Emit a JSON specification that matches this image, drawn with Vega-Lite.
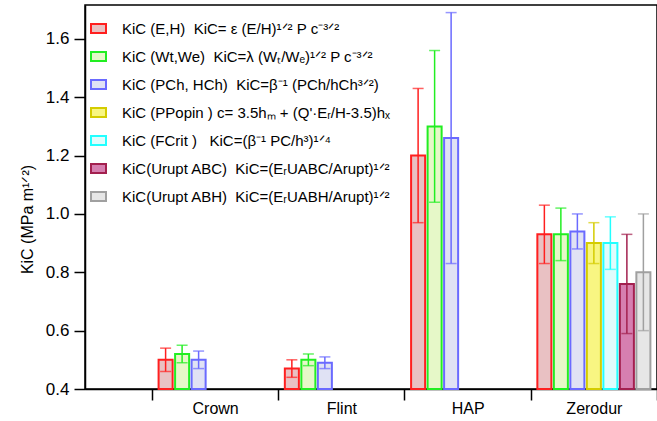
{
  "$schema": "https://vega.github.io/schema/vega-lite/v6.json",
  "autosize": "none",
  "padding": {"left": 85, "top": 5, "right": 0, "bottom": 32},
  "width": 572,
  "height": 384,
  "background": "white",
  "config": {
    "font": "Liberation Sans",
    "view": {"stroke": "black", "strokeWidth": 1.5},
    "axis": {"domainColor": "black", "tickColor": "black", "labelColor": "black", "titleColor": "black", "grid": false, "domainWidth": 1.5, "tickWidth": 1.5}
  },
  "data": {
    "values": [
      {"material": "Crown", "method": "KiC (E,H)\u00a0\u00a0KiC= ε (E/H)¹ᐟ² P c⁻³ᐟ²", "value": 0.50, "lo": 0.46, "hi": 0.54},
      {"material": "Crown", "method": "KiC (Wt,We)\u00a0\u00a0KiC=λ (Wₜ/Wₑ)¹ᐟ² P c⁻³ᐟ²", "value": 0.52, "lo": 0.49, "hi": 0.55},
      {"material": "Crown", "method": "KiC (PCh, HCh)\u00a0\u00a0KiC=β⁻¹ (PCh/hCh³ᐟ²)", "value": 0.50, "lo": 0.47, "hi": 0.53},
      {"material": "Flint", "method": "KiC (E,H)\u00a0\u00a0KiC= ε (E/H)¹ᐟ² P c⁻³ᐟ²", "value": 0.47, "lo": 0.44, "hi": 0.50},
      {"material": "Flint", "method": "KiC (Wt,We)\u00a0\u00a0KiC=λ (Wₜ/Wₑ)¹ᐟ² P c⁻³ᐟ²", "value": 0.50, "lo": 0.48, "hi": 0.52},
      {"material": "Flint", "method": "KiC (PCh, HCh)\u00a0\u00a0KiC=β⁻¹ (PCh/hCh³ᐟ²)", "value": 0.49, "lo": 0.47, "hi": 0.51},
      {"material": "HAP", "method": "KiC (E,H)\u00a0\u00a0KiC= ε (E/H)¹ᐟ² P c⁻³ᐟ²", "value": 1.20, "lo": 0.97, "hi": 1.43},
      {"material": "HAP", "method": "KiC (Wt,We)\u00a0\u00a0KiC=λ (Wₜ/Wₑ)¹ᐟ² P c⁻³ᐟ²", "value": 1.30, "lo": 1.04, "hi": 1.56},
      {"material": "HAP", "method": "KiC (PCh, HCh)\u00a0\u00a0KiC=β⁻¹ (PCh/hCh³ᐟ²)", "value": 1.26, "lo": 0.83, "hi": 1.69},
      {"material": "Zerodur", "method": "KiC (E,H)\u00a0\u00a0KiC= ε (E/H)¹ᐟ² P c⁻³ᐟ²", "value": 0.93, "lo": 0.83, "hi": 1.03},
      {"material": "Zerodur", "method": "KiC (Wt,We)\u00a0\u00a0KiC=λ (Wₜ/Wₑ)¹ᐟ² P c⁻³ᐟ²", "value": 0.93, "lo": 0.84, "hi": 1.02},
      {"material": "Zerodur", "method": "KiC (PCh, HCh)\u00a0\u00a0KiC=β⁻¹ (PCh/hCh³ᐟ²)", "value": 0.94, "lo": 0.88, "hi": 1.00},
      {"material": "Zerodur", "method": "KiC (PPopin ) c= 3.5hₘ + (Q'·Eᵣ/H-3.5)hₓ", "value": 0.90, "lo": 0.83, "hi": 0.97},
      {"material": "Zerodur", "method": "KiC (FCrit )\u00a0\u00a0\u00a0KiC=(β⁻¹ PC/h³)¹ᐟ⁴", "value": 0.90, "lo": 0.81, "hi": 0.99},
      {"material": "Zerodur", "method": "KiC(Urupt ABC)\u00a0\u00a0KiC=(EᵣUABC/Arupt)¹ᐟ²", "value": 0.76, "lo": 0.59, "hi": 0.93},
      {"material": "Zerodur", "method": "KiC(Urupt ABH)\u00a0\u00a0KiC=(EᵣUABH/Arupt)¹ᐟ²", "value": 0.80, "lo": 0.60, "hi": 1.00}
    ]
  },
  "encoding": {
    "x": {
      "field": "material", "type": "nominal",
      "scale": {"domain": ["Crown", "Flint", "HAP", "Zerodur"], "paddingInner": 0, "paddingOuter": 0.2653, "align": 1},
      "axis": {"title": null, "labelAngle": 0, "labelFontSize": 16, "tickSize": 11, "labelPadding": 0, "tickBand": "extent"}
    },
    "xOffset": {
      "field": "method", "type": "nominal",
      "scale": {"domain": [
        "KiC (E,H)\u00a0\u00a0KiC= ε (E/H)¹ᐟ² P c⁻³ᐟ²",
        "KiC (Wt,We)\u00a0\u00a0KiC=λ (Wₜ/Wₑ)¹ᐟ² P c⁻³ᐟ²",
        "KiC (PCh, HCh)\u00a0\u00a0KiC=β⁻¹ (PCh/hCh³ᐟ²)",
        "KiC (PPopin ) c= 3.5hₘ + (Q'·Eᵣ/H-3.5)hₓ",
        "KiC (FCrit )\u00a0\u00a0\u00a0KiC=(β⁻¹ PC/h³)¹ᐟ⁴",
        "KiC(Urupt ABC)\u00a0\u00a0KiC=(EᵣUABC/Arupt)¹ᐟ²",
        "KiC(Urupt ABH)\u00a0\u00a0KiC=(EᵣUABH/Arupt)¹ᐟ²"
      ], "paddingInner": 0.15, "paddingOuter": 0.4}
    }
  },
  "layer": [
    {
      "mark": {"type": "bar", "strokeWidth": 2},
      "encoding": {
        "y": {
          "field": "value", "type": "quantitative",
          "scale": {"domain": [0.4, 1.716], "zero": false, "nice": false},
          "axis": {"title": "KiC (MPa m¹ᐟ²)", "titleFontSize": 16, "titleFontWeight": "normal", "titlePadding": 10, "titleY": 214, "values": [0.4, 0.6, 0.8, 1.0, 1.2, 1.4, 1.6], "format": ".1f", "labelFontSize": 17, "tickSize": 11, "labelPadding": 5}
        },
        "y2": {"datum": 0.4},
        "fill": {
          "field": "method", "type": "nominal",
          "scale": {"domain": [
            "KiC (E,H)\u00a0\u00a0KiC= ε (E/H)¹ᐟ² P c⁻³ᐟ²",
            "KiC (Wt,We)\u00a0\u00a0KiC=λ (Wₜ/Wₑ)¹ᐟ² P c⁻³ᐟ²",
            "KiC (PCh, HCh)\u00a0\u00a0KiC=β⁻¹ (PCh/hCh³ᐟ²)",
            "KiC (PPopin ) c= 3.5hₘ + (Q'·Eᵣ/H-3.5)hₓ",
            "KiC (FCrit )\u00a0\u00a0\u00a0KiC=(β⁻¹ PC/h³)¹ᐟ⁴",
            "KiC(Urupt ABC)\u00a0\u00a0KiC=(EᵣUABC/Arupt)¹ᐟ²",
            "KiC(Urupt ABH)\u00a0\u00a0KiC=(EᵣUABH/Arupt)¹ᐟ²"
          ], "range": ["#e9c1c3", "#e6f8c8", "#e0e2f4", "#f8f682", "#e0fcfc", "#d67fb0", "#e6e6e6"]},
          "legend": {
            "title": null, "orient": "none", "legendX": 5, "legendY": 15,
            "symbolType": "M-1,-0.6H1V0.6H-1Z", "symbolSize": 225, "symbolStrokeWidth": 2,
            "labelFontSize": 15, "labelLimit": 500, "labelOffset": 15, "rowPadding": 11, "padding": 0
          }
        },
        "stroke": {
          "field": "method", "type": "nominal",
          "scale": {"domain": [
            "KiC (E,H)\u00a0\u00a0KiC= ε (E/H)¹ᐟ² P c⁻³ᐟ²",
            "KiC (Wt,We)\u00a0\u00a0KiC=λ (Wₜ/Wₑ)¹ᐟ² P c⁻³ᐟ²",
            "KiC (PCh, HCh)\u00a0\u00a0KiC=β⁻¹ (PCh/hCh³ᐟ²)",
            "KiC (PPopin ) c= 3.5hₘ + (Q'·Eᵣ/H-3.5)hₓ",
            "KiC (FCrit )\u00a0\u00a0\u00a0KiC=(β⁻¹ PC/h³)¹ᐟ⁴",
            "KiC(Urupt ABC)\u00a0\u00a0KiC=(EᵣUABC/Arupt)¹ᐟ²",
            "KiC(Urupt ABH)\u00a0\u00a0KiC=(EᵣUABH/Arupt)¹ᐟ²"
          ], "range": ["#ff1f1f", "#22ee22", "#6a6aff", "#d4cc00", "#22ffff", "#a3204f", "#a0a0a0"]},
          "legend": {
            "title": null, "orient": "none", "legendX": 5, "legendY": 15,
            "symbolType": "M-1,-0.6H1V0.6H-1Z", "symbolSize": 225, "symbolStrokeWidth": 2,
            "labelFontSize": 15, "labelLimit": 500, "labelOffset": 15, "rowPadding": 11, "padding": 0
          }
        }
      }
    },
    {
      "mark": {"type": "rule", "strokeWidth": 1.5},
      "encoding": {
        "y": {"field": "lo", "type": "quantitative"},
        "y2": {"field": "hi"},
        "color": {
          "field": "method", "type": "nominal", "legend": null,
          "scale": {"domain": [
            "KiC (E,H)\u00a0\u00a0KiC= ε (E/H)¹ᐟ² P c⁻³ᐟ²",
            "KiC (Wt,We)\u00a0\u00a0KiC=λ (Wₜ/Wₑ)¹ᐟ² P c⁻³ᐟ²",
            "KiC (PCh, HCh)\u00a0\u00a0KiC=β⁻¹ (PCh/hCh³ᐟ²)",
            "KiC (PPopin ) c= 3.5hₘ + (Q'·Eᵣ/H-3.5)hₓ",
            "KiC (FCrit )\u00a0\u00a0\u00a0KiC=(β⁻¹ PC/h³)¹ᐟ⁴",
            "KiC(Urupt ABC)\u00a0\u00a0KiC=(EᵣUABC/Arupt)¹ᐟ²",
            "KiC(Urupt ABH)\u00a0\u00a0KiC=(EᵣUABH/Arupt)¹ᐟ²"
          ], "range": ["#ff1f1f", "#22ee22", "#6a6aff", "#d4cc00", "#22ffff", "#a3204f", "#a0a0a0"]}
        }
      }
    },
    {
      "mark": {"type": "tick", "size": 11, "thickness": 1.5},
      "encoding": {
        "y": {"field": "lo", "type": "quantitative"},
        "color": {"field": "method", "type": "nominal", "legend": null}
      }
    },
    {
      "mark": {"type": "tick", "size": 11, "thickness": 1.5},
      "encoding": {
        "y": {"field": "hi", "type": "quantitative"},
        "color": {"field": "method", "type": "nominal", "legend": null}
      }
    }
  ]
}
